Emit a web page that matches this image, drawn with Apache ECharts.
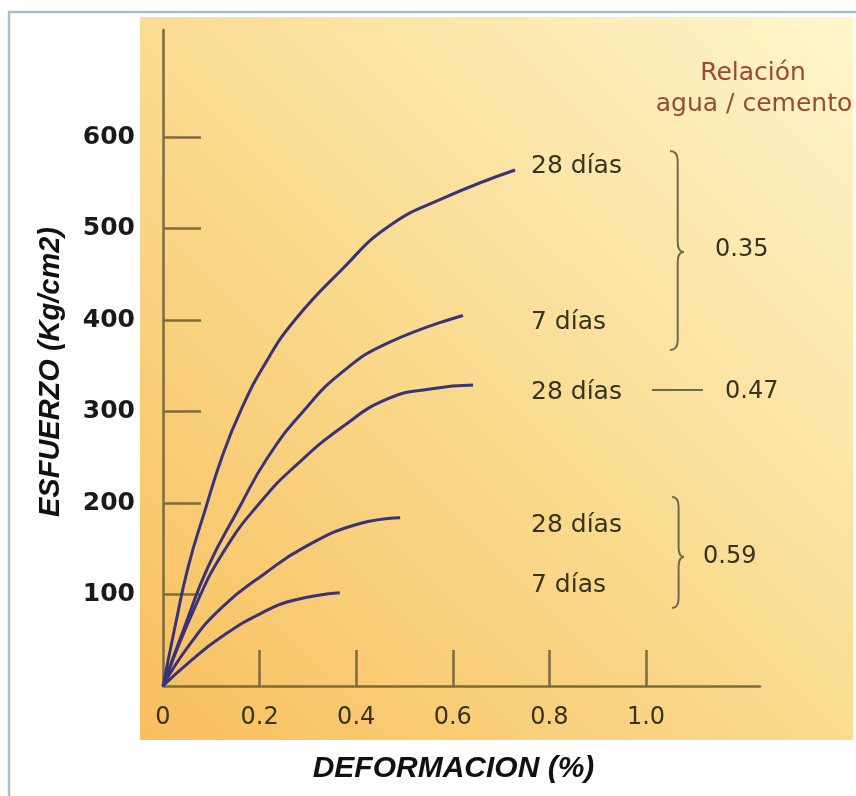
<!DOCTYPE html>
<html>
<head>
<meta charset="utf-8">
<script src="https://cdn.jsdelivr.net/npm/echarts@6/dist/echarts.min.js"></script>
<style>
  html, body { margin: 0; padding: 0; background: #ffffff; }
  #chart { width: 856px; height: 796px; }
</style>
</head>
<body>
<div id="chart"></div>
<script>
// ---- data (deformation %, stress kg/cm2) ----
const xTickValues = [0, 0.2, 0.4, 0.6, 0.8, 1.0];
const yTickValues = [100, 200, 300, 400, 500, 600];

const ac035_28 = [[0,0],[0.025,65],[0.052,130],[0.087,192],[0.122,250],[0.16,300],[0.211,352],[0.273,400],[0.37,455],[0.466,502],[0.584,534],[0.729,564]];
const ac035_7  = [[0,0],[0.045,65],[0.093,130],[0.155,192],[0.217,250],[0.29,300],[0.371,343],[0.466,375],[0.621,405]];
const ac047_28 = [[0,0],[0.066,86],[0.128,149],[0.205,203],[0.273,240],[0.371,283],[0.466,314],[0.557,325],[0.642,329]];
const ac059_28 = [[0,0],[0.052,43],[0.122,86],[0.211,123],[0.294,152],[0.397,176],[0.491,184]];
const ac059_7  = [[0,0],[0.052,25],[0.122,54],[0.205,80],[0.273,94],[0.366,102]];

const seriesList = [
  { name: '0.35 - 28 días', data: ac035_28 },
  { name: '0.35 - 7 días',  data: ac035_7 },
  { name: '0.47 - 28 días', data: ac047_28 },
  { name: '0.59 - 28 días', data: ac059_28 },
  { name: '0.59 - 7 días',  data: ac059_7 }
];

const lineColor = '#3b3378';
const axisColor = '#7d6b3e';
const textColor = '#37331f';
const braceColor = '#6f6a4c';
const labelFont = 'DejaVu Sans';

function seg(s) {
  return { type: 'bezierCurve', z: 20, shape: s, style: { stroke: braceColor, lineWidth: 2, fill: null } };
}
function lin(x1, y1, x2, y2) {
  return { type: 'line', z: 20, shape: { x1: x1, y1: y1, x2: x2, y2: y2 }, style: { stroke: braceColor, lineWidth: 2 } };
}
function brace(x, yTop, yBot, yTip, w) {
  const xm = x + w * 0.55;
  const r = 10;
  return [
    seg({ x1: x, y1: yTop, cpx1: xm, cpy1: yTop, x2: xm, y2: yTop + r }),
    lin(xm, yTop + r, xm, yTip - r),
    seg({ x1: xm, y1: yTip - r, cpx1: xm, cpy1: yTip, x2: x + w, y2: yTip }),
    seg({ x1: x + w, y1: yTip, cpx1: xm, cpy1: yTip, x2: xm, y2: yTip + r }),
    lin(xm, yTip + r, xm, yBot - r),
    seg({ x1: xm, y1: yBot - r, cpx1: xm, cpy1: yBot, x2: x, y2: yBot })
  ];
}

function txt(text, x, y, opts) {
  return {
    type: 'text', x: x, y: y, z: 20,
    style: Object.assign({
      text: text,
      font: '25px "' + labelFont + '"',
      fill: textColor,
      align: 'left',
      verticalAlign: 'middle'
    }, opts || {})
  };
}

const chart = echarts.init(document.getElementById('chart'), null, { renderer: 'canvas' });

const option = {
  animation: false,
  backgroundColor: '#ffffff',
  grid: { left: 163, right: 96, top: 30, bottom: 110, containLabel: false },
  xAxis: {
    type: 'value',
    min: 0,
    max: 1.236,
    interval: 0.2,
    name: 'DEFORMACION (%)',
    nameLocation: 'middle',
    nameGap: 68,
    nameTextStyle: {
      fontFamily: 'Liberation Sans', fontWeight: 'bold', fontStyle: 'italic',
      fontSize: 30, color: '#111111', padding: [0, 16, 0, 0]
    },
    axisLine: { show: true, lineStyle: { color: axisColor, width: 2.5 } },
    axisTick: { show: true, inside: true, length: 36, customValues: [0.2, 0.4, 0.6, 0.8, 1.0],
                lineStyle: { color: axisColor, width: 2.5 } },
    axisLabel: {
      customValues: xTickValues,
      margin: 20,
      fontFamily: labelFont, fontSize: 24, color: textColor,
      formatter: function (v) { return v === 0 ? '0' : v.toFixed(1); }
    },
    splitLine: { show: false }
  },
  yAxis: {
    type: 'value',
    min: 0,
    max: 717,
    interval: 100,
    name: 'ESFUERZO (Kg/cm2)',
    nameLocation: 'middle',
    nameRotate: 90,
    nameGap: 98,
    nameTextStyle: {
      fontFamily: 'Liberation Sans', fontWeight: 'bold', fontStyle: 'italic',
      fontSize: 29, color: '#111111', padding: [0, 28, 0, 0]
    },
    axisLine: { show: true, lineStyle: { color: axisColor, width: 2.5 } },
    axisTick: { show: true, inside: true, length: 38, customValues: yTickValues,
                lineStyle: { color: axisColor, width: 2.5 } },
    axisLabel: {
      customValues: yTickValues,
      margin: 28,
      fontFamily: labelFont, fontWeight: 'bold', fontSize: 25, color: '#1a1a1a'
    },
    splitLine: { show: false }
  },
  series: seriesList.map(function (s) {
    return {
      name: s.name,
      type: 'line',
      data: s.data,
      smooth: 0.5,
      showSymbol: false,
      symbol: 'none',
      z: 5,
      lineStyle: { color: lineColor, width: 3 }
    };
  }),
  graphic: [
    { type: 'rect', z: -20, shape: { x: 9, y: 12, width: 900, height: 900 },
      style: { fill: '#ffffff', stroke: '#a9bccd', lineWidth: 2.5 } },
    { type: 'rect', z: -10, shape: { x: 140, y: 17, width: 713, height: 723 },
      style: {
        fill: new echarts.graphic.LinearGradient(0, 1, 1, 0, [
          { offset: 0, color: '#f8bf5e' },
          { offset: 0.45, color: '#fad98c' },
          { offset: 1, color: '#fef6cc' }
        ])
      } },
    txt('Relación', 753, 73, { align: 'center', fill: '#9a4a35' }),
    txt('agua / cemento', 754, 104, { align: 'center', fill: '#9a4a35' }),
    txt('28 días', 531, 166),
    txt('7 días', 531, 322),
    txt('28 días', 531, 392),
    txt('28 días', 531, 525),
    txt('7 días', 531, 585),
    txt('0.35', 715, 250, { font: '24px "' + labelFont + '"' }),
    txt('0.47', 725, 392, { font: '24px "' + labelFont + '"' }),
    txt('0.59', 703, 557, { font: '24px "' + labelFont + '"' }),
    lin(652, 390, 703, 390)
  ].concat(brace(670, 151, 350, 252, 14)).concat(brace(672, 497, 608, 557, 12))
};

chart.setOption(option);
</script>
</body>
</html>
